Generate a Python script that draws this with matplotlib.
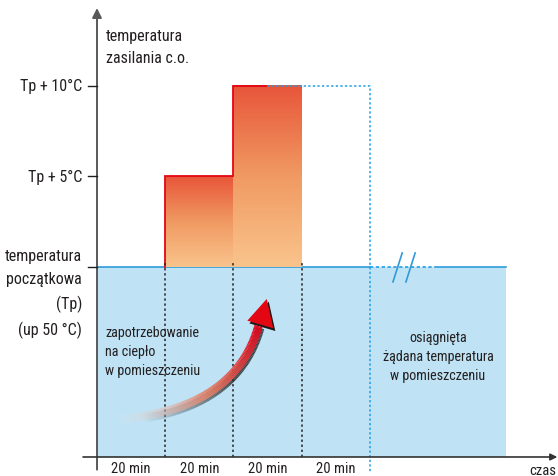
import numpy as np
import matplotlib
matplotlib.use("Agg")
import matplotlib.pyplot as plt
from matplotlib.colors import LinearSegmentedColormap, to_rgba
from matplotlib.collections import LineCollection
from matplotlib.patches import Polygon

plt.rcParams['font.family'] = ['Roboto Condensed', 'DejaVu Sans']
plt.rcParams['font.stretch'] = 'condensed'

# time steps (min) and temperature rise above Tp (degC)
step_edges = [20, 40, 60]
step_levels = [5, 10]
target_end = 80
time_labels = ["20 min", "20 min", "20 min", "20 min"]
time_label_pos = [10, 30, 50, 70]
ytick_pos = [10, 5]
ytick_labels = ["Tp + 10°C", "Tp + 5°C"]
room_end = 120

txt = '#231f20'
blue_fill = '#bfe3f5'
blue_line = '#2f9bd8'
blue_dot = '#1ea0e6'
red = '#e30613'

fig = plt.figure(figsize=(5.58, 4.77), dpi=100)
ax = fig.add_axes([0, 0, 1, 1])
ax.set_axis_off()
ax.set_xlim(-28.45, 135.2)
ax.set_ylim(-11.55, 14.8)

y_axis = -10.5

# room temperature region
ax.fill_between([0, room_end], y_axis, 0, color=blue_fill, lw=0, zorder=1)
ax.plot([0, target_end], [0, 0], color=blue_line, lw=1.2, zorder=2)
ax.plot([target_end, 100], [0, 0], color=blue_dot, lw=1.2, ls=(0, (2, 1.5)), zorder=2)
ax.plot([100, room_end], [0, 0], color=blue_line, lw=1.2, zorder=2)

# gradient steps
cmap = LinearSegmentedColormap.from_list('heat', ['#f9c48c', '#f09a62', '#e8553a'])
grad = np.linspace(0, 1, 256).reshape(-1, 1)
for i, lvl in enumerate(step_levels):
    ax.imshow(grad, extent=[step_edges[i], step_edges[i + 1], 0, lvl], origin='lower',
              cmap=cmap, aspect='auto', zorder=3, interpolation='bilinear')

# red outline of the steps
ax.plot([step_edges[0], step_edges[0], step_edges[1], step_edges[1], 50],
        [0, step_levels[0], step_levels[0], step_levels[1], step_levels[1]],
        color=red, lw=1.3, zorder=4, solid_joinstyle='miter')

# target (dotted blue) outline
ax.plot([50, target_end, target_end], [step_levels[1], step_levels[1], -11.4],
        color=blue_dot, lw=1.1, ls=(0, (1.5, 1.5)), zorder=4)

# black dotted time separators
for e in step_edges:
    ax.plot([e, e], [y_axis, 0.3], color=txt, lw=1.1, ls=(0, (1.5, 1.8)), zorder=4)

# break marks
for x0 in [86.8, 90.6]:
    ax.plot([x0, x0 + 2.7], [-0.83, 0.77], color=blue_line, lw=1.2, zorder=5)

# curved arrow
p0 = np.array([6.74, -8.40])
p1 = np.array([40.47, -7.85])
p2 = np.array([47.36, -3.26])
s = np.linspace(0, 1, 120)[:, None]
pts = (1 - s) ** 2 * p0 + 2 * s * (1 - s) * p1 + s ** 2 * p2
segs = np.stack([pts[:-1], pts[1:]], axis=1)
c_tail = np.array(to_rgba('#e6e6e6'))
c_mid = np.array(to_rgba('#e07a62'))
c_head = np.array(to_rgba('#e2001a'))
cols = []
shcols = []
for k in range(len(segs)):
    f = k / (len(segs) - 1)
    if f < 0.5:
        c = c_tail + (c_mid - c_tail) * (f / 0.5)
    else:
        c = c_mid + (c_head - c_mid) * ((f - 0.5) / 0.5)
    c = c.copy()
    c[3] = min(1.0, 0.15 + f * 2.0)
    cols.append(c)
    shcols.append((0.15, 0.15, 0.15, min(0.85, max(0.0, f * 1.6 - 0.15))))
shadow = segs + np.array([0.5, -0.12])
ax.add_collection(LineCollection(shadow, colors=shcols, linewidths=6.0, capstyle='butt', zorder=5))
ax.add_collection(LineCollection(segs, colors=cols, linewidths=6.0, capstyle='butt', zorder=6))
head = np.array([[49.77, -1.77], [44.08, -2.97], [51.70, -3.39]])
ax.add_patch(Polygon(head + np.array([0.6, -0.15]), closed=True, color='#1a1a1a', lw=0, zorder=5))
ax.add_patch(Polygon(head, closed=True, color=red, lw=0, zorder=7))

# axes with arrows
ax.annotate('', xy=(0, 14.3), xytext=(0, -11.2),
            arrowprops=dict(arrowstyle='-|>', color='#58595b', lw=1.4, mutation_scale=14,
                            shrinkA=0, shrinkB=0), zorder=8)
ax.annotate('', xy=(135.0, y_axis), xytext=(-4.1, y_axis),
            arrowprops=dict(arrowstyle='-|>', color='#333333', lw=1.2, mutation_scale=10,
                            shrinkA=0, shrinkB=0), zorder=8)

# y ticks
for yp, lab in zip(ytick_pos + [0], ytick_labels + [None]):
    ax.plot([-2.6, 0], [yp, yp], color=txt, lw=1.0, zorder=8)
    if lab:
        ax.text(-4.4, yp, lab, ha='right', va='center', fontsize=11.5, color=txt)

ax.text(-4.4, 1.05, "temperatura\npoczątkowa\n(Tp)\n(up 50 °C)", ha='right', va='top',
        fontsize=11.5, color=txt, linespacing=1.65, multialignment='right')
ax.text(2.6, 13.2, "temperatura\nzasilania c.o.", ha='left', va='top',
        fontsize=11.5, color=txt, linespacing=1.55)

ax.text(2.35, -3.22, "zapotrzebowanie\nna ciepło\nw pomieszczeniu", ha='left', va='top',
        fontsize=10.2, color=txt, linespacing=1.45)
ax.text(100, -3.5, "osiągnięta\nżądana temperatura\nw pomieszczeniu", ha='center', va='top',
        fontsize=10.2, color=txt, linespacing=1.45, multialignment='center')

for xp, lab in zip(time_label_pos, time_labels):
    ax.text(xp, -11.5, lab, ha='center', va='bottom', fontsize=10.5, color=txt)
ax.text(130.8, -11.2, "czas", ha='center', va='center', fontsize=10.5, color=txt)

fig.savefig("out.png", dpi=100)
